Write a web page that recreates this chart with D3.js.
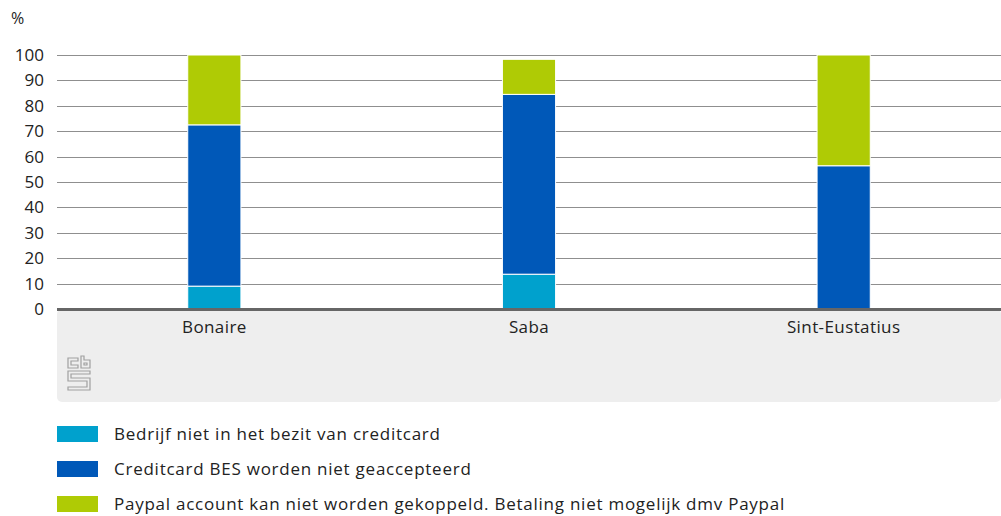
<!DOCTYPE html>
<html>
<head>
<meta charset="utf-8">
<script src="https://cdn.jsdelivr.net/npm/d3@7"></script>
<style>
  body { margin: 0; background: #fff; }
  text { font-family: "Open Sans", sans-serif; fill: #222; }
</style>
</head>
<body>
<script>
var categories = ["Bonaire", "Saba", "Sint-Eustatius"]
var seriesNames = ["Bedrijf niet in het bezit van creditcard",
                   "Creditcard BES worden niet geaccepteerd",
                   "Paypal account kan niet worden gekoppeld. Betaling niet mogelijk dmv Paypal"]
var teal  = [9, 13.7, 0]
var blue  = [63.5, 70.8, 56.4]
var green = [27.5, 13.8, 43.6]
var yTicks = [0, 10, 20, 30, 40, 50, 60, 70, 80, 90, 100]
var colors = ["#00a1cd", "#0058b8", "#afcb05"]

var width = 1001, height = 516
var m = { left: 57, right: 1001, top: 55, bottom: 309 }
var font = "'Open Sans', sans-serif"

var svg = d3.select("body")
  .append("svg")
  .attr("width", width)
  .attr("height", height)

var x = d3.scaleBand().domain(categories).range([m.left, m.right]).paddingInner(0.831).paddingOuter(0.4155)
var y = d3.scaleLinear().domain([0, 100]).range([m.bottom, m.top])

// grey panel under the axis
svg.append("rect")
  .attr("x", m.left).attr("y", m.bottom)
  .attr("width", m.right - m.left).attr("height", 93)
  .attr("rx", 5)
  .attr("fill", "#eeeeee")

// gridlines
svg.selectAll("line.grid")
  .data(yTicks.slice(1)).enter()
  .append("line")
  .attr("class", "grid")
  .attr("x1", m.left).attr("x2", m.right)
  .attr("y1", function(d) { return Math.round(y(d)) + 0.5 })
  .attr("y2", function(d) { return Math.round(y(d)) + 0.5 })
  .attr("stroke", "#8f8f8f")
  .attr("stroke-width", 1)

// y axis labels
var yAxis = d3.axisLeft(y).tickValues(yTicks).tickSize(0).tickPadding(13)
var gy = svg.append("g").attr("transform", "translate(" + m.left + ",0)").call(yAxis)
gy.select(".domain").remove()
gy.selectAll("text").attr("font-size", 17).attr("font-family", font).attr("fill", "#222")

svg.append("text").attr("x", 11).attr("y", 24).attr("font-size", 16).text("%")

// stacked bars
var rows = categories.map(function(c, i) {
  return { cat: c, s0: teal[i], s1: blue[i], s2: green[i] }
})
var stack = d3.stack().keys(["s0", "s1", "s2"])(rows)

svg.selectAll("g.layer")
  .data(stack).enter()
  .append("g")
  .attr("class", "layer")
  .attr("fill", function(d, i) { return colors[i] })
  .selectAll("rect")
  .data(function(d) { return d.filter(function(p) { return p[1] - p[0] > 0 }) })
  .enter()
  .append("rect")
  .attr("x", function(d) { return x(d.data.cat) })
  .attr("y", function(d) { return y(d[1]) })
  .attr("width", x.bandwidth())
  .attr("height", function(d) { return y(d[0]) - y(d[1]) })
  .attr("stroke", "#fff")
  .attr("stroke-width", 1)

// baseline
svg.append("line")
  .attr("x1", m.left).attr("x2", m.right)
  .attr("y1", y(0) + 0.5).attr("y2", y(0) + 0.5)
  .attr("stroke", "#666").attr("stroke-width", 3)

// category labels
var xAxis = d3.axisBottom(x).tickSize(0).tickPadding(12)
var gx = svg.append("g").attr("transform", "translate(0," + m.bottom + ")").call(xAxis)
gx.select(".domain").remove()
gx.selectAll("text").attr("font-size", 17).attr("font-family", font)
  .attr("letter-spacing", "0.4px").attr("fill", "#222")

// cbs logo (rough)
var logo = svg.append("g").attr("transform", "translate(68,358)")
  .attr("fill", "none").attr("stroke", "#a0a0a0").attr("stroke-width", 1.2)
logo.append("path").attr("d", "M0,0 H10 V3 H3 V7 H10 V10 H0 Z")
logo.append("path").attr("d", "M13,-2 V10 H22 V2 H16 V-2 Z M16,5 H19 V7 H16 Z")
logo.append("path").attr("d", "M0,13 H22 V16 H3 V20 H22 V32 H0 V29 H19 V23 H0 Z")

// legend
var legend = svg.selectAll("g.legend")
  .data(seriesNames).enter()
  .append("g")
  .attr("class", "legend")
  .attr("transform", function(d, i) { return "translate(57," + (426 + i * 35) + ")" })
legend.append("rect").attr("width", 41).attr("height", 16)
  .attr("fill", function(d, i) { return colors[i] })
legend.append("text").attr("x", 57).attr("y", 14).attr("font-size", 17)
  .attr("letter-spacing", "0.75px").text(function(d) { return d })
</script>
</body>
</html>
